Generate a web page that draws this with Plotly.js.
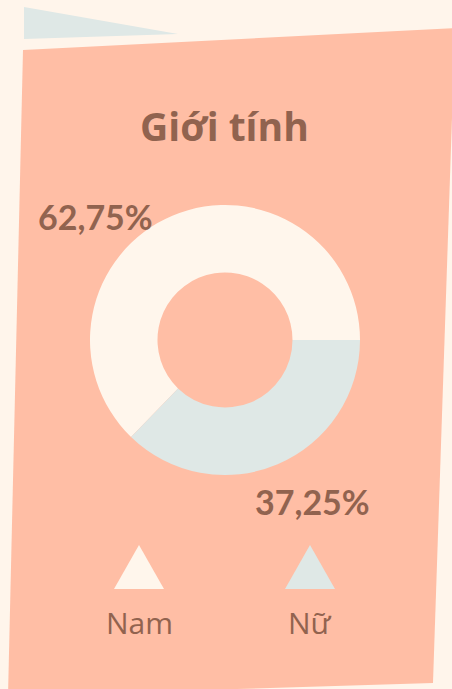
<!DOCTYPE html>
<html>
<head>
<meta charset="utf-8">
<script src="https://cdn.plot.ly/plotly-3.0.1.min.js"></script>
<style>html,body{margin:0;padding:0;background:#FFF5EB;}#chart{width:452px;height:689px;}</style>
</head>
<body>
<div id="chart"></div>
<script>
var categories = ['Nam', 'Nữ'];
var values = [62.75, 37.25];
var sliceColors = ['#FFF6EC', '#DFE8E6'];
var chartTitle = 'Giới tính';

var W = 452, H = 689;
function px(x) { return x / W; }
function py(y) { return 1 - y / H; }
function path(pts) {
  return 'M' + pts.map(function (p) { return px(p[0]).toFixed(5) + ',' + py(p[1]).toFixed(5); }).join(' L') + ' Z';
}
var textColor = '#91634F';

var total = values.reduce(function (a, b) { return a + b; }, 0);
var secondFrac = values[1] / total;
var rot = 90 + secondFrac * 360; // second slice starts at 3 o'clock
if (rot > 180) rot -= 360;

function fmt(v) { return v.toFixed(2).replace('.', ',') + '%'; }

var trace = {
  type: 'pie',
  labels: categories,
  values: values,
  sort: false,
  direction: 'clockwise',
  rotation: rot,
  hole: 0.5,
  marker: { colors: sliceColors, line: { width: 0 } },
  textinfo: 'none',
  hoverinfo: 'skip',
  showlegend: false,
  domain: { x: [px(90), px(360)], y: [py(475), py(205)] }
};

var labelPos = [[95, 216], [312, 501]];
var legendPos = [139, 310];

var annotations = [{
  xref: 'paper', yref: 'paper', x: px(224), y: py(125), xanchor: 'center', yanchor: 'middle',
  text: '<b>' + chartTitle + '</b>', showarrow: false,
  font: { family: '"Open Sans", sans-serif', size: 39, color: textColor }
}];
values.forEach(function (v, i) {
  annotations.push({
    xref: 'paper', yref: 'paper', x: px(labelPos[i][0]), y: py(labelPos[i][1]),
    xanchor: 'center', yanchor: 'middle', showarrow: false,
    text: '<b>' + fmt(v) + '</b>',
    font: { family: 'Lato, sans-serif', size: 34, color: textColor }
  });
  annotations.push({
    xref: 'paper', yref: 'paper', x: px(legendPos[i]), y: py(622),
    xanchor: 'center', yanchor: 'middle', showarrow: false,
    text: categories[i],
    font: { family: '"Open Sans", sans-serif', size: 30, color: textColor }
  });
});

var shapes = [
  { type: 'path', xref: 'paper', yref: 'paper', layer: 'below', line: { width: 0 }, fillcolor: '#FFBEA5',
    path: path([[23, 50], [455, 28], [433, 683], [8, 696]]) },
  { type: 'path', xref: 'paper', yref: 'paper', layer: 'below', line: { width: 0 }, fillcolor: '#DFE8E6',
    path: path([[24, 7], [178, 34], [24, 39]]) }
];
legendPos.forEach(function (cx, i) {
  shapes.push({ type: 'path', xref: 'paper', yref: 'paper', layer: 'above', line: { width: 0 },
    fillcolor: sliceColors[i], path: path([[cx - 25, 589], [cx + 25, 589], [cx, 545]]) });
});

var layout = {
  width: W, height: H,
  margin: { l: 0, r: 0, t: 0, b: 0 },
  paper_bgcolor: '#FFF5EB',
  plot_bgcolor: 'rgba(0,0,0,0)',
  showlegend: false,
  annotations: annotations,
  shapes: shapes
};

Plotly.newPlot('chart', [trace], layout, { displayModeBar: false, staticPlot: true });
</script>
</body>
</html>
